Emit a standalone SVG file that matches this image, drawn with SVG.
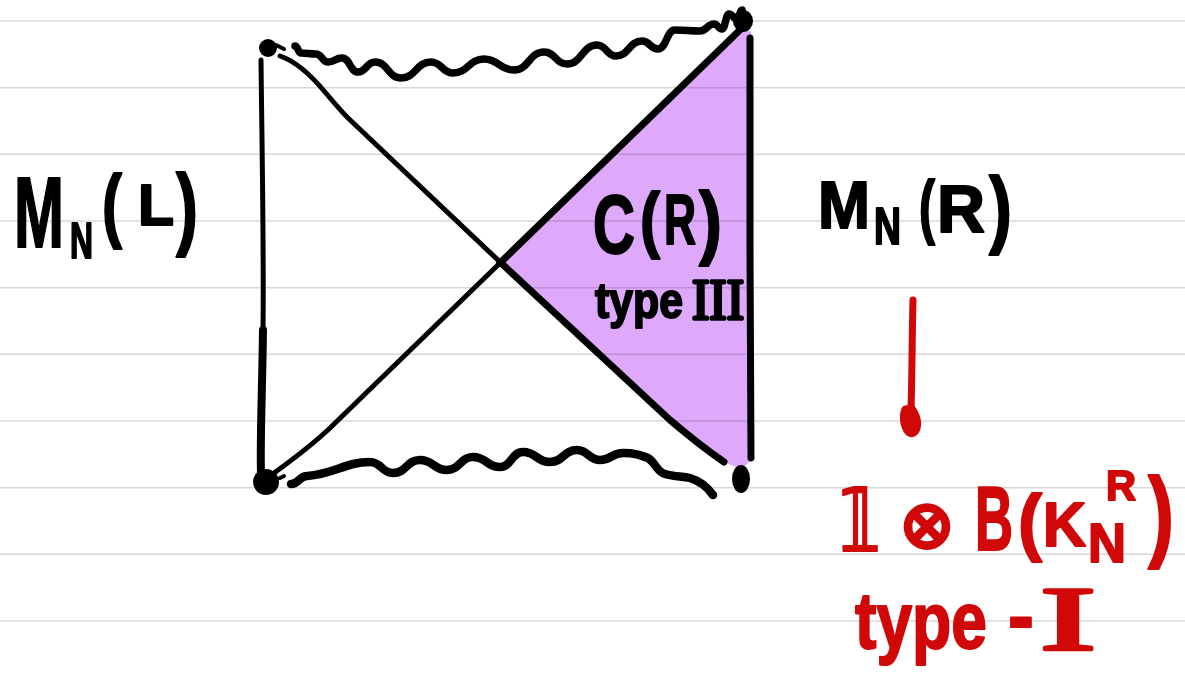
<svg xmlns="http://www.w3.org/2000/svg" width="1185" height="678" viewBox="0 0 1185 678">
<style>
.rule{stroke:#d8d8d8;stroke-width:1.6}
.ink{fill:none;stroke:#000;stroke-linecap:round;stroke-linejoin:round}
.blk{fill:#000;stroke:#000;stroke-width:2;stroke-linejoin:round;font-family:"Liberation Sans",Arial,sans-serif;font-weight:bold}
.red{fill:#d10808;stroke:#d10808;stroke-width:2;stroke-linejoin:round;font-family:"Liberation Sans",Arial,sans-serif;font-weight:bold}
.serif{font-family:"Liberation Serif","Times New Roman",serif;font-weight:normal;stroke-width:3.5}
.dv{font-family:"DejaVu Sans",sans-serif}
</style>
<rect width="1185" height="678" fill="#fff"/>
<g id="paper">
<line class="rule" x1="0" y1="21" x2="1185" y2="21"/>
<line class="rule" x1="0" y1="87.7" x2="1185" y2="87.7"/>
<line class="rule" x1="0" y1="154.3" x2="1185" y2="154.3"/>
<line class="rule" x1="0" y1="221" x2="1185" y2="221"/>
<line class="rule" x1="0" y1="287.7" x2="1185" y2="287.7"/>
<line class="rule" x1="0" y1="354.3" x2="1185" y2="354.3"/>
<line class="rule" x1="0" y1="421" x2="1185" y2="421"/>
<line class="rule" x1="0" y1="487.7" x2="1185" y2="487.7"/>
<line class="rule" x1="0" y1="554.3" x2="1185" y2="554.3"/>
<line class="rule" x1="0" y1="621" x2="1185" y2="621"/>
</g>
<g id="wedge-region">
<path d="M500,263 L743,27 L751,32 L752,460 L741,469 L724,462 C708,451 690,437 670,420 Z" fill="#dea9fb" style="mix-blend-mode:multiply"/>
</g>
<g id="connectors">
<path class="ink" stroke-width="5" d="M261,60 C262,150 264,250 263,330"/>
<path class="ink" stroke-width="8" d="M263,330 C262,400 260,440 261,475"/>
<path class="ink" stroke-width="7" d="M750,38 L750,250 L751,458"/>
<path class="ink" stroke-width="5" d="M280,56 C295,61 310,74 325,92 C335,104 340,110 348,118 L500,262"/>
<path class="ink" stroke-width="7" d="M500,262 L670,420 C690,437 708,451 724,462"/>
<path class="ink" stroke-width="5" d="M274,473 C292,460 312,445 330,428 L500,263"/>
<path class="ink" stroke-width="7" d="M500,263 L743,27"/>
<path class="ink" stroke-width="7.5" d="M295,46 C298,46 298,53 301,53 C308.5,53 308.5,54 316,54 C322,54 322,62 328,62 C335,62 335,58 342,58 C350,58 350,72 358,72 C366.5,72 366.5,62 375,62 C388,62 388,78 401,78 C416,78 416,62 431,62 C442,62 442,73 453,73 C468.5,73 468.5,59 484,59 C499,59 499,70 514,70 C529,70 529,52 544,52 C555.5,52 555.5,64 567,64 C582,64 582,45 597,45 C606.5,45 606.5,56 616,56 C629,56 629,41 642,41 C650,41 650,49 658,49 C666.5,49 666.5,30 675,30 C687.5,30 687.5,31 700,31 C707,31 707,24 714,24 C718,24 718,29 722,29 C725.5,29 725.5,14 729,14 C733,14 733,19 737,19 C739.5,19 739.5,10 742,10"/>
<path class="ink" stroke-width="8.5" d="M291,484 C299,484 299,476 307,476 C335,474 345,462 370,462 C381.5,462 381.5,473 393,473 C406.5,473 406.5,460 420,460 C433.5,460 433.5,470 447,470 C460,470 460,457 473,457 C486.5,457 486.5,467 500,467 C511.5,467 511.5,452 523,452 C536.5,452 536.5,462 550,462 C563.5,462 563.5,450 577,450 C588.5,450 588.5,460 600,460 C611.5,460 611.5,453 623,453 C635,453 640,455 648,458 C655,462 657,472 665,474 C675,477 682,476 690,478 C700,481 708,488 713,495"/>
<path class="ink" stroke-width="4" d="M276,45 L284,49"/>
<path class="ink" stroke-width="4" d="M280,478 L284,476"/>
<path d="M913,300 C912,340 912,380 911,410" fill="none" stroke="#d10808" stroke-width="7" stroke-linecap="round"/>
<path d="M903,406 C898,412 899,428 906,435 C912,440 920,436 921,426 C922,418 918,410 913,404 Z" fill="#d10808"/>
</g>
<g id="corners">
<circle cx="268" cy="48" r="9" fill="#000"/>
<ellipse cx="743" cy="21" rx="10" ry="11" fill="#000"/>
<circle cx="266" cy="482" r="13" fill="#000"/>
<ellipse cx="741" cy="479" rx="9" ry="14" fill="#000"/>
</g>
<g id="label-left">
<text class="blk" transform="matrix(0.6,0,0,1,14,247)" font-size="100">M</text>
<text class="blk" transform="matrix(0.637,0,0,1,70,258)" font-size="50">N</text>
<text class="blk" transform="matrix(0.732,0,0,1,102,232)" font-size="82">(</text>
<text class="blk" transform="matrix(1.016,0,0,1,138,225)" font-size="58">L</text>
<text class="blk" transform="matrix(0.734,0,0,1,176,238)" font-size="90">)</text>
</g>
<g id="label-right">
<text class="blk" transform="matrix(0.946,0,0,1,818,228)" font-size="66">M</text>
<text class="blk" transform="matrix(0.719,0,0,1,874,244)" font-size="52">N</text>
<text class="blk" transform="matrix(0.686,0,0,1,919,230)" font-size="70">(</text>
<text class="blk" transform="matrix(1.007,0,0,1,937,232)" font-size="66">R</text>
<text class="blk" transform="matrix(0.803,0,0,1,989,237)" font-size="86">)</text>
</g>
<g id="label-wedge">
<text class="blk" transform="matrix(0.693,0,0,1,593,253)" font-size="84">C</text>
<text class="blk" transform="matrix(0.834,0,0,1,640,244)" font-size="72">(</text>
<text class="blk" transform="matrix(0.633,0,0,1,664,244)" font-size="70">R</text>
<text class="blk" transform="matrix(0.842,0,0,1,699,249)" font-size="82">)</text>
<text class="blk" transform="matrix(0.856,0,0,1,595,318)" font-size="50">type</text>
<text class="blk serif" transform="matrix(0.93,0,0,1,692,319)" font-size="56">III</text>
</g>
<g id="label-algebra">
<text class="red dv" x="838" y="551" font-size="88" textLength="44" lengthAdjust="spacingAndGlyphs" stroke-width="3">𝟙</text>
<text class="red dv" x="927" y="548" font-size="68" text-anchor="middle">⊗</text>
<text class="red" transform="matrix(0.585,0,0,1,975,550)" font-size="90">B</text>
<text class="red" transform="matrix(0.974,0,0,1,1018,547)" font-size="74">(</text>
<text class="red" transform="matrix(0.945,0,0,1,1043,546)" font-size="63">K</text>
<text class="red" transform="matrix(0.94,0,0,1,1088,562)" font-size="56">N</text>
<text class="red" transform="matrix(0.989,0,0,1,1106,500)" font-size="42">R</text>
<text class="red" transform="matrix(0.781,0,0,1,1148,548)" font-size="100">)</text>
<text class="red" transform="matrix(0.803,0,0,1,855,648)" font-size="80">type</text>
<text class="red" transform="matrix(0.976,0,0,1,1008,643)" font-size="80">-</text>
<text class="red serif" transform="matrix(1.87,0,0,1,1040,650)" font-size="90">I</text>
</g>
</svg>
